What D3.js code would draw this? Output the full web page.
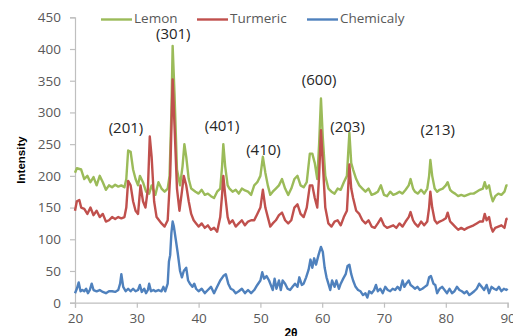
<!DOCTYPE html>
<html>
<head>
<meta charset="utf-8">
<script src="https://cdn.jsdelivr.net/npm/d3@7"></script>
<style>
  html, body { margin: 0; padding: 0; background: #fff; }
  svg { display: block; }
</style>
</head>
<body>
<svg id="chart" width="513" height="336"></svg>
<script>
// ---------- DATA ----------
const seriesNames = ["Lemon", "Turmeric", "Chemicaly"];
const xTicks = [20, 30, 40, 50, 60, 70, 80, 90];
const yTicks = [0, 50, 100, 150, 200, 250, 300, 350, 400, 450];

// [2θ, intensity]
const lemon = [[20,205],[20.3,212],[21,210],[21.5,195],[22,200],[22.5,190],[23,198],[23.5,185],[24,200],[24.5,190],[25,178],[25.5,185],[26,182],[26.5,186],[27,183],[27.5,185],[28,182],[28.3,195],[28.6,240],[29,238],[29.4,210],[29.8,195],[30.2,185],[30.5,200],[31,190],[31.5,175],[32,172],[32.4,185],[33,170],[33.5,190],[34,180],[34.5,175],[35,180],[35.3,200],[35.6,300],[35.8,405],[36.1,330],[36.5,210],[37,185],[37.4,215],[37.7,250],[38,230],[38.4,195],[38.8,180],[39.5,175],[40,172],[40.5,178],[41,170],[41.5,172],[42,168],[42.5,165],[43,175],[43.5,180],[43.8,215],[44,250],[44.3,215],[44.7,185],[45,180],[45.5,175],[46,178],[46.5,172],[47,180],[47.5,177],[48,175],[48.5,170],[49,185],[49.5,190],[50,200],[50.4,230],[50.8,205],[51.2,185],[51.6,170],[52,175],[52.5,180],[53,185],[53.5,195],[54,180],[54.5,170],[55,180],[55.5,195],[56,200],[56.5,185],[57,182],[57.5,190],[58,235],[58.4,235],[58.8,220],[59.2,195],[59.5,250],[59.8,322],[60.1,260],[60.5,200],[61,180],[61.5,175],[62,172],[62.5,180],[63,178],[63.5,190],[64,200],[64.2,235],[64.4,268],[64.7,220],[65,210],[65.5,195],[66,185],[66.5,180],[67,175],[67.5,180],[68,170],[68.5,172],[69,175],[69.5,185],[70,170],[70.5,168],[71,175],[71.5,170],[72,172],[72.5,175],[73,172],[73.5,178],[74,185],[74.3,195],[74.7,180],[75,175],[75.5,172],[76,178],[76.5,172],[77,180],[77.3,200],[77.5,225],[77.8,200],[78.2,180],[78.6,175],[79,178],[79.5,180],[80,185],[80.3,190],[80.7,178],[81,175],[81.5,172],[82,168],[82.5,170],[83,168],[83.5,170],[84,172],[84.5,172],[85,175],[85.5,178],[86,180],[86.3,190],[86.6,180],[87,185],[87.3,170],[87.6,160],[88,168],[88.5,172],[89,170],[89.5,175],[89.8,185],[90,185]];

const turmeric = [[20,145],[20.3,160],[20.7,162],[21,150],[21.5,148],[22,140],[22.5,150],[23,138],[23.5,145],[24,135],[24.5,140],[25,128],[25.5,130],[26,135],[26.5,132],[27,135],[27.5,133],[28,135],[28.3,150],[28.6,192],[29,185],[29.4,160],[29.8,145],[30.2,140],[30.6,185],[31,160],[31.4,150],[31.8,180],[32.1,262],[32.4,230],[32.8,160],[33.2,135],[33.6,130],[34,125],[34.5,120],[35,130],[35.4,200],[35.8,352],[36.1,280],[36.5,180],[36.9,145],[37.3,175],[37.6,200],[38,185],[38.4,160],[38.8,140],[39.2,130],[39.6,125],[40,120],[40.5,125],[41,118],[41.5,122],[42,115],[42.5,118],[43,112],[43.5,135],[43.8,170],[44,200],[44.3,170],[44.7,135],[45,125],[45.5,130],[46,120],[46.5,125],[47,130],[47.5,122],[48,128],[48.5,130],[49,130],[49.5,140],[50,150],[50.4,178],[50.8,150],[51.2,135],[51.6,120],[52,125],[52.5,130],[53,138],[53.5,142],[54,130],[54.5,125],[55,130],[55.5,150],[56,155],[56.5,140],[57,135],[57.5,150],[58,185],[58.4,185],[58.8,165],[59.2,150],[59.5,200],[59.8,272],[60.1,220],[60.5,150],[61,125],[61.5,120],[62,128],[62.5,130],[63,122],[63.5,135],[64,145],[64.2,180],[64.4,218],[64.7,180],[65,165],[65.5,145],[66,140],[66.5,130],[67,125],[67.5,130],[68,120],[68.5,118],[69,125],[69.5,133],[70,122],[70.5,118],[71,120],[71.5,122],[72,118],[72.5,125],[73,120],[73.5,128],[74,135],[74.3,143],[74.7,130],[75,125],[75.5,120],[76,128],[76.5,122],[77,128],[77.3,150],[77.5,175],[77.8,150],[78.2,130],[78.6,125],[79,128],[79.5,130],[80,133],[80.3,142],[80.7,128],[81,125],[81.5,120],[82,115],[82.5,118],[83,115],[83.5,118],[84,120],[84.5,122],[85,125],[85.5,128],[86,128],[86.3,140],[86.6,130],[87,135],[87.3,120],[87.6,112],[88,118],[88.5,120],[89,122],[89.5,118],[89.8,132],[90,133]];

const chemicaly = [[20,15],[20.3,22],[20.6,32],[20.9,18],[21.2,20],[21.5,18],[21.8,22],[22.1,15],[22.4,20],[22.7,30],[23,20],[23.5,18],[24,20],[24.5,17],[25,15],[25.5,18],[26,18],[26.5,17],[27,20],[27.3,30],[27.5,45],[27.8,25],[28.2,18],[28.6,22],[29,18],[29.4,22],[29.8,18],[30.2,20],[30.5,28],[30.8,17],[31.2,22],[31.5,15],[31.8,20],[32,30],[32.3,18],[32.7,20],[33,18],[33.5,20],[34,18],[34.3,25],[34.6,18],[35,30],[35.2,65],[35.4,75],[35.6,110],[35.8,128],[36,120],[36.3,100],[36.6,80],[37,50],[37.3,40],[37.6,50],[38,55],[38.3,35],[38.6,30],[39,25],[39.3,30],[39.6,22],[40,18],[40.5,22],[41,15],[41.5,20],[42,25],[42.5,15],[43,25],[43.5,35],[44,42],[44.4,45],[44.8,30],[45.2,22],[45.6,20],[46,15],[46.5,18],[47,22],[47.5,15],[48,20],[48.5,15],[49,20],[49.5,28],[50,35],[50.3,48],[50.6,38],[51,42],[51.4,35],[51.8,25],[52,20],[52.3,38],[52.6,22],[53,35],[53.3,20],[53.6,35],[54,30],[54.4,22],[54.8,20],[55.2,25],[55.6,30],[56,25],[56.3,40],[56.7,28],[57,30],[57.4,40],[57.8,52],[58.1,68],[58.4,55],[58.7,70],[59,60],[59.4,75],[59.8,88],[60.1,80],[60.4,55],[60.7,40],[61,30],[61.3,20],[61.6,35],[62,25],[62.3,35],[62.7,22],[63,30],[63.4,38],[63.8,45],[64.1,58],[64.4,60],[64.7,45],[65,35],[65.4,25],[65.8,20],[66.2,18],[66.6,12],[67,15],[67.3,8],[67.6,18],[68,15],[68.4,20],[68.7,28],[69,18],[69.4,22],[69.8,15],[70.2,25],[70.6,20],[71,18],[71.4,22],[71.8,20],[72.2,25],[72.6,20],[73,35],[73.3,25],[73.6,30],[74,35],[74.3,28],[74.7,25],[75,22],[75.4,25],[75.8,20],[76.2,22],[76.6,25],[77,28],[77.3,40],[77.6,42],[78,30],[78.3,28],[78.6,15],[79,22],[79.4,25],[79.8,20],[80.2,15],[80.6,22],[81,15],[81.4,18],[81.8,25],[82.2,20],[82.6,18],[83,15],[83.4,18],[83.8,12],[84.2,15],[84.6,18],[85,22],[85.4,30],[85.8,25],[86.2,20],[86.6,28],[87,15],[87.4,25],[87.8,22],[88.2,20],[88.6,25],[89,18],[89.4,22],[89.8,20],[90,22]];

// peak labels: [label, 2θ, intensity]
const peakLabels = [["(201)",28.25,274],["(301)",35.9,422],["(401)",43.8,277],["(410)",50.5,240],["(600)",59.5,350],["(203)",64.1,276],["(213)",78.7,270]];

// ---------- DRAW ----------
const svg = d3.select("#chart");
const x = d3.scaleLinear().domain([20, 90]).range([75, 507.6]);
const y = d3.scaleLinear().domain([0, 450]).range([302.7, 17.3]);

const colors = {Lemon: "#9bbb59", Turmeric: "#c0504d", Chemicaly: "#4f81bd"};
const data = {Lemon: lemon, Turmeric: turmeric, Chemicaly: chemicaly};

const tickColor = "#595959";
const axisColor = "#bfbfbf";
const font = "'Open Sans', sans-serif";

// Y axis
const yAxis = svg.append("g").attr("transform", `translate(${x(20)},0)`)
  .call(d3.axisLeft(y).tickValues(yTicks).tickSize(5).tickPadding(9));
// X axis
const xAxis = svg.append("g").attr("transform", `translate(0,${y(0)})`)
  .call(d3.axisBottom(x).tickValues(xTicks).tickSize(5).tickPadding(6));
[yAxis, xAxis].forEach(g => {
  g.select(".domain").attr("stroke", axisColor).attr("stroke-width", 1.2);
  g.selectAll(".tick line").attr("stroke", axisColor).attr("stroke-width", 1.2);
  g.selectAll(".tick text").attr("fill", tickColor).style("font-family", font).style("font-size", "13.5px");
});

// lines
const line = d3.line().x(d => x(d[0])).y(d => y(d[1])).curve(d3.curveLinear);
seriesNames.forEach(name => {
  svg.append("path").datum(data[name])
    .attr("fill", "none")
    .attr("stroke", colors[name])
    .attr("stroke-width", 2.4)
    .attr("stroke-linejoin", "round")
    .attr("d", line);
});

// peak labels
svg.append("g").selectAll("text").data(peakLabels).join("text")
  .attr("x", d => x(d[1]))
  .attr("y", d => y(d[2]))
  .attr("text-anchor", "middle")
  .attr("dominant-baseline", "middle")
  .attr("fill", "#262626")
  .style("font-family", font)
  .style("font-size", "15px")
  .text(d => d[0]);

// legend
const legendX = [101, 197, 307];
const legend = svg.append("g");
seriesNames.forEach((name, i) => {
  legend.append("line")
    .attr("x1", legendX[i]).attr("x2", legendX[i] + 31)
    .attr("y1", 19.5).attr("y2", 19.5)
    .attr("stroke", colors[name]).attr("stroke-width", 2.4);
  legend.append("text")
    .attr("x", legendX[i] + 33).attr("y", 19.5)
    .attr("dominant-baseline", "middle")
    .attr("fill", tickColor)
    .style("font-family", font)
    .style("font-size", "13.5px")
    .text(name);
});

// axis titles
svg.append("text")
  .attr("transform", `translate(22,160) rotate(-90)`)
  .attr("text-anchor", "middle")
  .attr("dominant-baseline", "middle")
  .style("font-family", "'Liberation Sans', Arial, sans-serif")
  .style("font-weight", "bold")
  .style("font-size", "11.5px")
  .attr("fill", "#000")
  .text("Intensity");

svg.append("text")
  .attr("x", 291).attr("y", 337)
  .attr("text-anchor", "middle")
  .style("font-family", "'Liberation Sans', Arial, sans-serif")
  .style("font-weight", "bold")
  .style("font-size", "12px")
  .attr("fill", "#000")
  .text("2θ");
</script>
</body>
</html>
